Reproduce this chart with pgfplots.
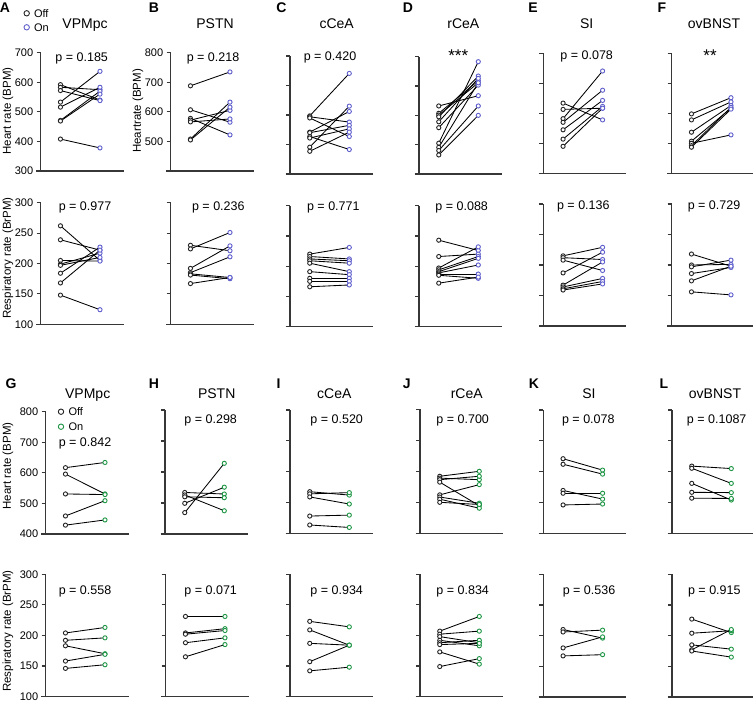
\documentclass[border=0pt]{standalone}
\usepackage{fontspec}
\setmainfont{Liberation Sans}
\usepackage{pgfplots}
\pgfplotsset{compat=1.18}

\definecolor{offc}{RGB}{35,35,35}
\definecolor{onB}{RGB}{95,95,205}
\definecolor{onG}{RGB}{30,150,70}
\definecolor{axc}{RGB}{55,55,55}

\pgfplotsset{
  pan/.style={scale only axis, width=83pt, xmin=0.5, xmax=2.6, anchor=south west, clip=false,
    axis x line*=bottom, axis y line*=left, xtick=\empty,
    tick align=outside, major tick length=4pt,
    axis line style={line width=1.1pt, axc},
    x axis line style={shorten <=-4.5pt},
    ytick style={line width=1.1pt, axc},
    yticklabel style={font=\fontsize{11}{11}\selectfont, text=black},
    /pgf/number format/assume math mode=true},
  nolab/.style={yticklabels={}},
  hr/.style={ymin=400, ymax=800, ytick={400,500,...,800}},
  rr/.style={ymin=100, ymax=300, ytick={100,150,...,300}},
  prB/.style={black, line width=0.85pt, scatter, scatter src=explicit symbolic,
    scatter/classes={off={mark=*, draw=offc, fill=white, mark size=2.1pt, line width=0.9pt},
                     on={mark=*, draw=onB, fill=white, mark size=2.1pt, line width=0.9pt}}},
  prG/.style={black, line width=0.85pt, scatter, scatter src=explicit symbolic,
    scatter/classes={off={mark=*, draw=offc, fill=white, mark size=2.1pt, line width=0.9pt},
                     on={mark=*, draw=onG, fill=white, mark size=2.1pt, line width=0.9pt}}},
}
\newcommand\pb[2]{\addplot[prB] coordinates {(1,#1) [off] (2,#2) [on]};}
\newcommand\pg[2]{\addplot[prG] coordinates {(1,#1) [off] (2,#2) [on]};}

\newcommand\pvf{\fontsize{12.5}{14}\selectfont}
\newcommand\stf{\fontsize{17}{18}\selectfont}
\newcommand\ttlf{\fontsize{14}{16}\selectfont}
\newcommand\lettf{\fontsize{14}{16}\selectfont\bfseries}
\newcommand\ylf{\fontsize{11.5}{13}\selectfont}
\newcommand\lgf{\fontsize{11}{12}\selectfont}

\begin{document}
\begin{tikzpicture}
\path[use as bounding box] (0,0) rectangle (753pt,-702pt);

% ---------- row 1: heart rate, On = blue
\begin{axis}[pan, at={(40.7pt,-171pt)}, height=118.3pt, ymin=300, ymax=700, ytick={300,400,...,700}]
\pb{592}{540}\pb{583}{575}\pb{572}{538}\pb{533}{637}\pb{516}{583}\pb{471}{570}\pb{469}{560}\pb{408}{378}
\end{axis}
\begin{axis}[pan, hr, at={(170.7pt,-171pt)}, height=118.3pt, ytick={500,600,700,800}]
\pb{688}{735}\pb{607}{565}\pb{578}{522}\pb{572}{605}\pb{566}{576}\pb{508}{633}\pb{505}{616}
\end{axis}
\begin{axis}[pan, hr, nolab, at={(290pt,-174pt)}, height=118pt]
\pb{597}{741}\pb{594}{576}\pb{590}{527}\pb{542}{612}\pb{540}{565}\pb{527}{483}\pb{522}{553}\pb{491}{630}\pb{477}{542}
\end{axis}
\begin{axis}[pan, hr, nolab, at={(419pt,-174pt)}, height=117.3pt]
\pb{632}{667}\pb{607}{718}\pb{601}{711}\pb{595}{734}\pb{578}{726}\pb{558}{703}\pb{505}{783}\pb{491}{711}\pb{480}{632}\pb{465}{600}
\end{axis}
\begin{axis}[pan, hr, nolab, at={(543.3pt,-173.3pt)}, height=120pt]
\pb{634}{578}\pb{613}{617}\pb{582}{741}\pb{570}{677}\pb{545}{643}\pb{514}{623}\pb{490}{617}
\end{axis}
\begin{axis}[pan, hr, nolab, at={(671.7pt,-173.3pt)}, height=120pt]
\pb{598}{652}\pb{578}{638}\pb{537}{626}\pb{507}{617}\pb{500}{528}\pb{492}{620}\pb{487}{614}
\end{axis}

% ---------- row 2: respiratory rate, On = blue
\begin{axis}[pan, rr, at={(40.7pt,-324.3pt)}, height=121.6pt]
\pb{262}{205}\pb{239}{222}\pb{205}{204}\pb{199}{217}\pb{197}{210}\pb{184}{227}\pb{168}{222}\pb{148}{124}
\end{axis}
\begin{axis}[pan, rr, nolab, at={(170.7pt,-324.3pt)}, height=121.6pt]
\pb{230}{221}\pb{224}{251}\pb{192}{229}\pb{185}{211}\pb{183}{177}\pb{181}{175}\pb{167}{177}
\end{axis}
\begin{axis}[pan, rr, nolab, at={(290pt,-326.7pt)}, height=121pt]
\pb{220}{231}\pb{216}{212}\pb{212}{209}\pb{209}{205}\pb{205}{191}\pb{191}{186}\pb{180}{180}\pb{175}{175}\pb{166}{169}
\end{axis}
\begin{axis}[pan, rr, nolab, at={(419pt,-326.7pt)}, height=121pt]
\pb{243}{226}\pb{216}{220}\pb{197}{232}\pb{194}{216}\pb{191}{213}\pb{189}{202}\pb{187}{187}\pb{185}{180}\pb{172}{182}
\end{axis}
\begin{axis}[pan, rr, nolab, at={(543.3pt,-326pt)}, height=122pt]
\pb{215}{229}\pb{212}{209}\pb{208}{191}\pb{187}{221}\pb{167}{205}\pb{164}{178}\pb{161}{173}\pb{159}{169}
\end{axis}
\begin{axis}[pan, rr, nolab, at={(671.7pt,-326pt)}, height=122pt]
\pb{218}{198}\pb{200}{201}\pb{197}{208}\pb{186}{196}\pb{174}{198}\pb{156}{151}
\end{axis}

% ---------- row 3: heart rate, On = green
\begin{axis}[pan, hr, at={(45.7pt,-534pt)}, height=122.3pt]
\pg{617}{634}\pg{596}{531}\pg{531}{529}\pg{459}{509}\pg{429}{446}
\end{axis}
\begin{axis}[pan, hr, nolab, at={(165pt,-534pt)}, height=124pt]
\pg{534}{529}\pg{526}{475}\pg{520}{517}\pg{499}{551}\pg{469}{628}
\end{axis}
\begin{axis}[pan, hr, nolab, at={(290pt,-533.3pt)}, height=123.3pt]
\pg{535}{524}\pg{528}{532}\pg{518}{495}\pg{456}{459}\pg{427}{419}
\end{axis}
\begin{axis}[pan, hr, nolab, at={(420pt,-533.3pt)}, height=124pt]
\pg{584}{600}\pg{578}{573}\pg{573}{584}\pg{565}{489}\pg{524}{557}\pg{517}{497}\pg{510}{481}\pg{500}{493}
\end{axis}
\begin{axis}[pan, hr, nolab, at={(543.3pt,-533.3pt)}, height=123.3pt]
\pg{642}{605}\pg{624}{592}\pg{539}{511}\pg{530}{530}\pg{492}{495}
\end{axis}
\begin{axis}[pan, hr, nolab, at={(672pt,-533.3pt)}, height=123.3pt]
\pg{618}{610}\pg{611}{562}\pg{562}{508}\pg{533}{532}\pg{514}{513}
\end{axis}

% ---------- row 4: respiratory rate, On = green
\begin{axis}[pan, rr, at={(45.7pt,-696.5pt)}, height=122.2pt]
\pg{204}{213}\pg{192}{196}\pg{183}{170}\pg{158}{169}\pg{146}{152}
\end{axis}
\begin{axis}[pan, rr, nolab, at={(165.7pt,-696.5pt)}, height=122.2pt]
\pg{231}{231}\pg{204}{211}\pg{202}{208}\pg{188}{196}\pg{165}{185}
\end{axis}
\begin{axis}[pan, rr, nolab, at={(290pt,-696.5pt)}, height=122.2pt]
\pg{223}{214}\pg{209}{184}\pg{187}{184}\pg{157}{184}\pg{142}{148}
\end{axis}
\begin{axis}[pan, rr, nolab, at={(420pt,-696.5pt)}, height=122.2pt]
\pg{207}{231}\pg{202}{207}\pg{198}{188}\pg{192}{183}\pg{188}{192}\pg{185}{187}\pg{173}{153}\pg{149}{162}
\end{axis}
\begin{axis}[pan, rr, nolab, at={(543.3pt,-697pt)}, height=122.7pt]
\pg{210}{196}\pg{206}{209}\pg{180}{198}\pg{167}{169}
\end{axis}
\begin{axis}[pan, rr, nolab, at={(672pt,-697pt)}, height=122.7pt]
\pg{227}{205}\pg{204}{208}\pg{185}{178}\pg{177}{210}\pg{175}{165}
\end{axis}

% ---------- panel letters
\foreach \l/\x in {A/5,B/154,C/281.5,D/408,E/533,F/662}
  \node[font=\lettf, anchor=base] at (\x pt,-12.5pt) {\l};
\foreach \l/\x in {G/11,H/154,I/278.5,J/406.7,K/534,L/664}
  \node[font=\lettf, anchor=base] at (\x pt,-388pt) {\l};

% ---------- region titles
\foreach \t/\x in {VPMpc/85,PSTN/215,cCeA/336.7,rCeA/463.3,SI/586.7,ovBNST/714}
  \node[font=\ttlf, anchor=base] at (\x pt,-28.5pt) {\t};
\foreach \t/\x in {VPMpc/87.7,PSTN/216.7,cCeA/334.3,rCeA/466.7,SI/589,ovBNST/715}
  \node[font=\ttlf, anchor=base] at (\x pt,-398.3pt) {\t};

% ---------- p values
\node[font=\pvf, anchor=base] at (81.7pt,-61pt) {p = 0.185};
\node[font=\pvf, anchor=base] at (213pt,-61pt) {p = 0.218};
\node[font=\pvf, anchor=base] at (330pt,-60pt) {p = 0.420};
\node[font=\stf] at (458.3pt,-56pt) {***};
\node[font=\pvf, anchor=base] at (586.7pt,-59.3pt) {p = 0.078};
\node[font=\stf] at (710pt,-56pt) {**};

\node[font=\pvf, anchor=base] at (85pt,-210pt) {p = 0.977};
\node[font=\pvf, anchor=base] at (218.3pt,-210pt) {p = 0.236};
\node[font=\pvf, anchor=base] at (333.3pt,-210pt) {p = 0.771};
\node[font=\pvf, anchor=base] at (461.7pt,-210pt) {p = 0.088};
\node[font=\pvf, anchor=base] at (583.3pt,-209.3pt) {p = 0.136};
\node[font=\pvf, anchor=base] at (714pt,-209.3pt) {p = 0.729};

\node[font=\pvf, anchor=base] at (85pt,-446pt) {p = 0.842};
\node[font=\pvf, anchor=base] at (210.7pt,-423.3pt) {p = 0.298};
\node[font=\pvf, anchor=base] at (336.7pt,-423.3pt) {p = 0.520};
\node[font=\pvf, anchor=base] at (462.7pt,-423.3pt) {p = 0.700};
\node[font=\pvf, anchor=base] at (588.3pt,-423.3pt) {p = 0.078};
\node[font=\pvf, anchor=base] at (716.7pt,-423.3pt) {p = 0.1087};

\node[font=\pvf, anchor=base] at (85pt,-594pt) {p = 0.558};
\node[font=\pvf, anchor=base] at (210.7pt,-594pt) {p = 0.071};
\node[font=\pvf, anchor=base] at (336.7pt,-594pt) {p = 0.934};
\node[font=\pvf, anchor=base] at (462.7pt,-594pt) {p = 0.834};
\node[font=\pvf, anchor=base] at (589pt,-594pt) {p = 0.536};
\node[font=\pvf, anchor=base] at (714.3pt,-594pt) {p = 0.915};

% ---------- y labels
\node[font=\ylf, rotate=90] at (8pt,-111pt) {Heart rate (BPM)};
\node[font=\ylf, rotate=90] at (138pt,-111pt) {Heartrate (BPM)};
\node[font=\ylf, rotate=90] at (8pt,-258pt) {Respiratory rate (BrPM)};
\node[font=\ylf, rotate=90] at (8pt,-466pt) {Heart rate (BPM)};
\node[font=\ylf, rotate=90] at (8pt,-631pt) {Respiratory rate (BrPM)};

% ---------- legends
\draw[offc, line width=0.9pt] (26.7pt,-13.3pt) circle (2.7pt);
\node[font=\lgf, anchor=west] at (30.5pt,-13.3pt) {Off};
\draw[onB, line width=0.9pt] (26.7pt,-27.3pt) circle (2.7pt);
\node[font=\lgf, anchor=west] at (30.5pt,-27.3pt) {On};
\draw[offc, line width=0.9pt] (61pt,-411.7pt) circle (2.7pt);
\node[font=\lgf, anchor=west] at (65pt,-411.7pt) {Off};
\draw[onG, line width=0.9pt] (61pt,-426.7pt) circle (2.7pt);
\node[font=\lgf, anchor=west] at (65pt,-426.7pt) {On};
\end{tikzpicture}
\end{document}
